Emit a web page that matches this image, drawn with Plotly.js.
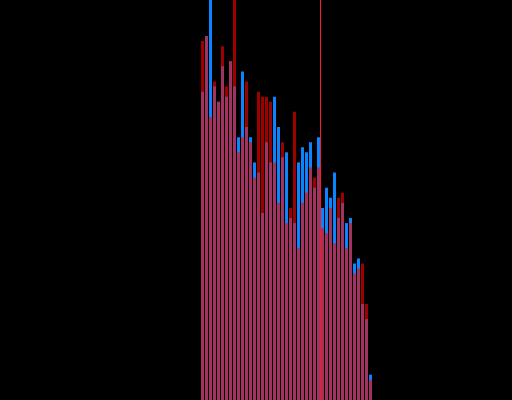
<!DOCTYPE html>
<html>
<head>
<meta charset="utf-8">
<script src="https://cdn.plot.ly/plotly-3.0.1.min.js"></script>
<style>html,body{margin:0;padding:0;background:#000;}#chart{width:512px;height:400px;}</style>
</head>
<body>
<div id="chart"></div>
<script>
// bin index of each bar
var bins = [0,1,2,3,4,5,6,7,8,9,10,11,12,13,14,15,16,17,18,19,20,21,22,23,24,25,26,27,28,29,30,31,32,33,34,35,36,37,38,39,40,41,42];
// counts of the blue series
var blueCounts = [61,72,84,62,59,66,60,67,62,52,65,54,52,47,45,37,51,47,60,54,48,49,36,35,47,50,49,51,42,52,38,42,40,45,36,39,35,36,27,28,19,16,5];
// counts of the red series
var redCounts  = [71,72,56,63,59,70,62,67,86,49,52,63,51,44,61,60,60,59,47,39,51,35,38,57,30,39,41,46,44,46,34,33,38,31,40,41,30,35,25,26,27,19,4];
// position of the vertical marker line
var markerX = 29.5;

var traces = [
  {type:'bar', x:bins, y:blueCounts, marker:{color:'#0a84ff'}, opacity:1, hoverinfo:'none'},
  {type:'bar', x:bins, y:redCounts, marker:{color:'#ff0000'}, opacity:0.62, hoverinfo:'none'}
];
var layout = {
  width:512, height:400,
  margin:{l:0,r:0,t:0,b:0,pad:0},
  paper_bgcolor:'#000', plot_bgcolor:'#000',
  barmode:'overlay', bargap:0.25,
  showlegend:false,
  xaxis:{range:[-50.625,77.375], visible:false, fixedrange:true},
  yaxis:{range:[0,79.13], visible:false, fixedrange:true},
  shapes:[{type:'line', xref:'x', yref:'paper', x0:markerX, x1:markerX, y0:0, y1:1, line:{color:'#ff1a1a', width:1}}]
};
Plotly.newPlot('chart', traces, layout, {displayModeBar:false, staticPlot:true});
</script>
</body>
</html>
